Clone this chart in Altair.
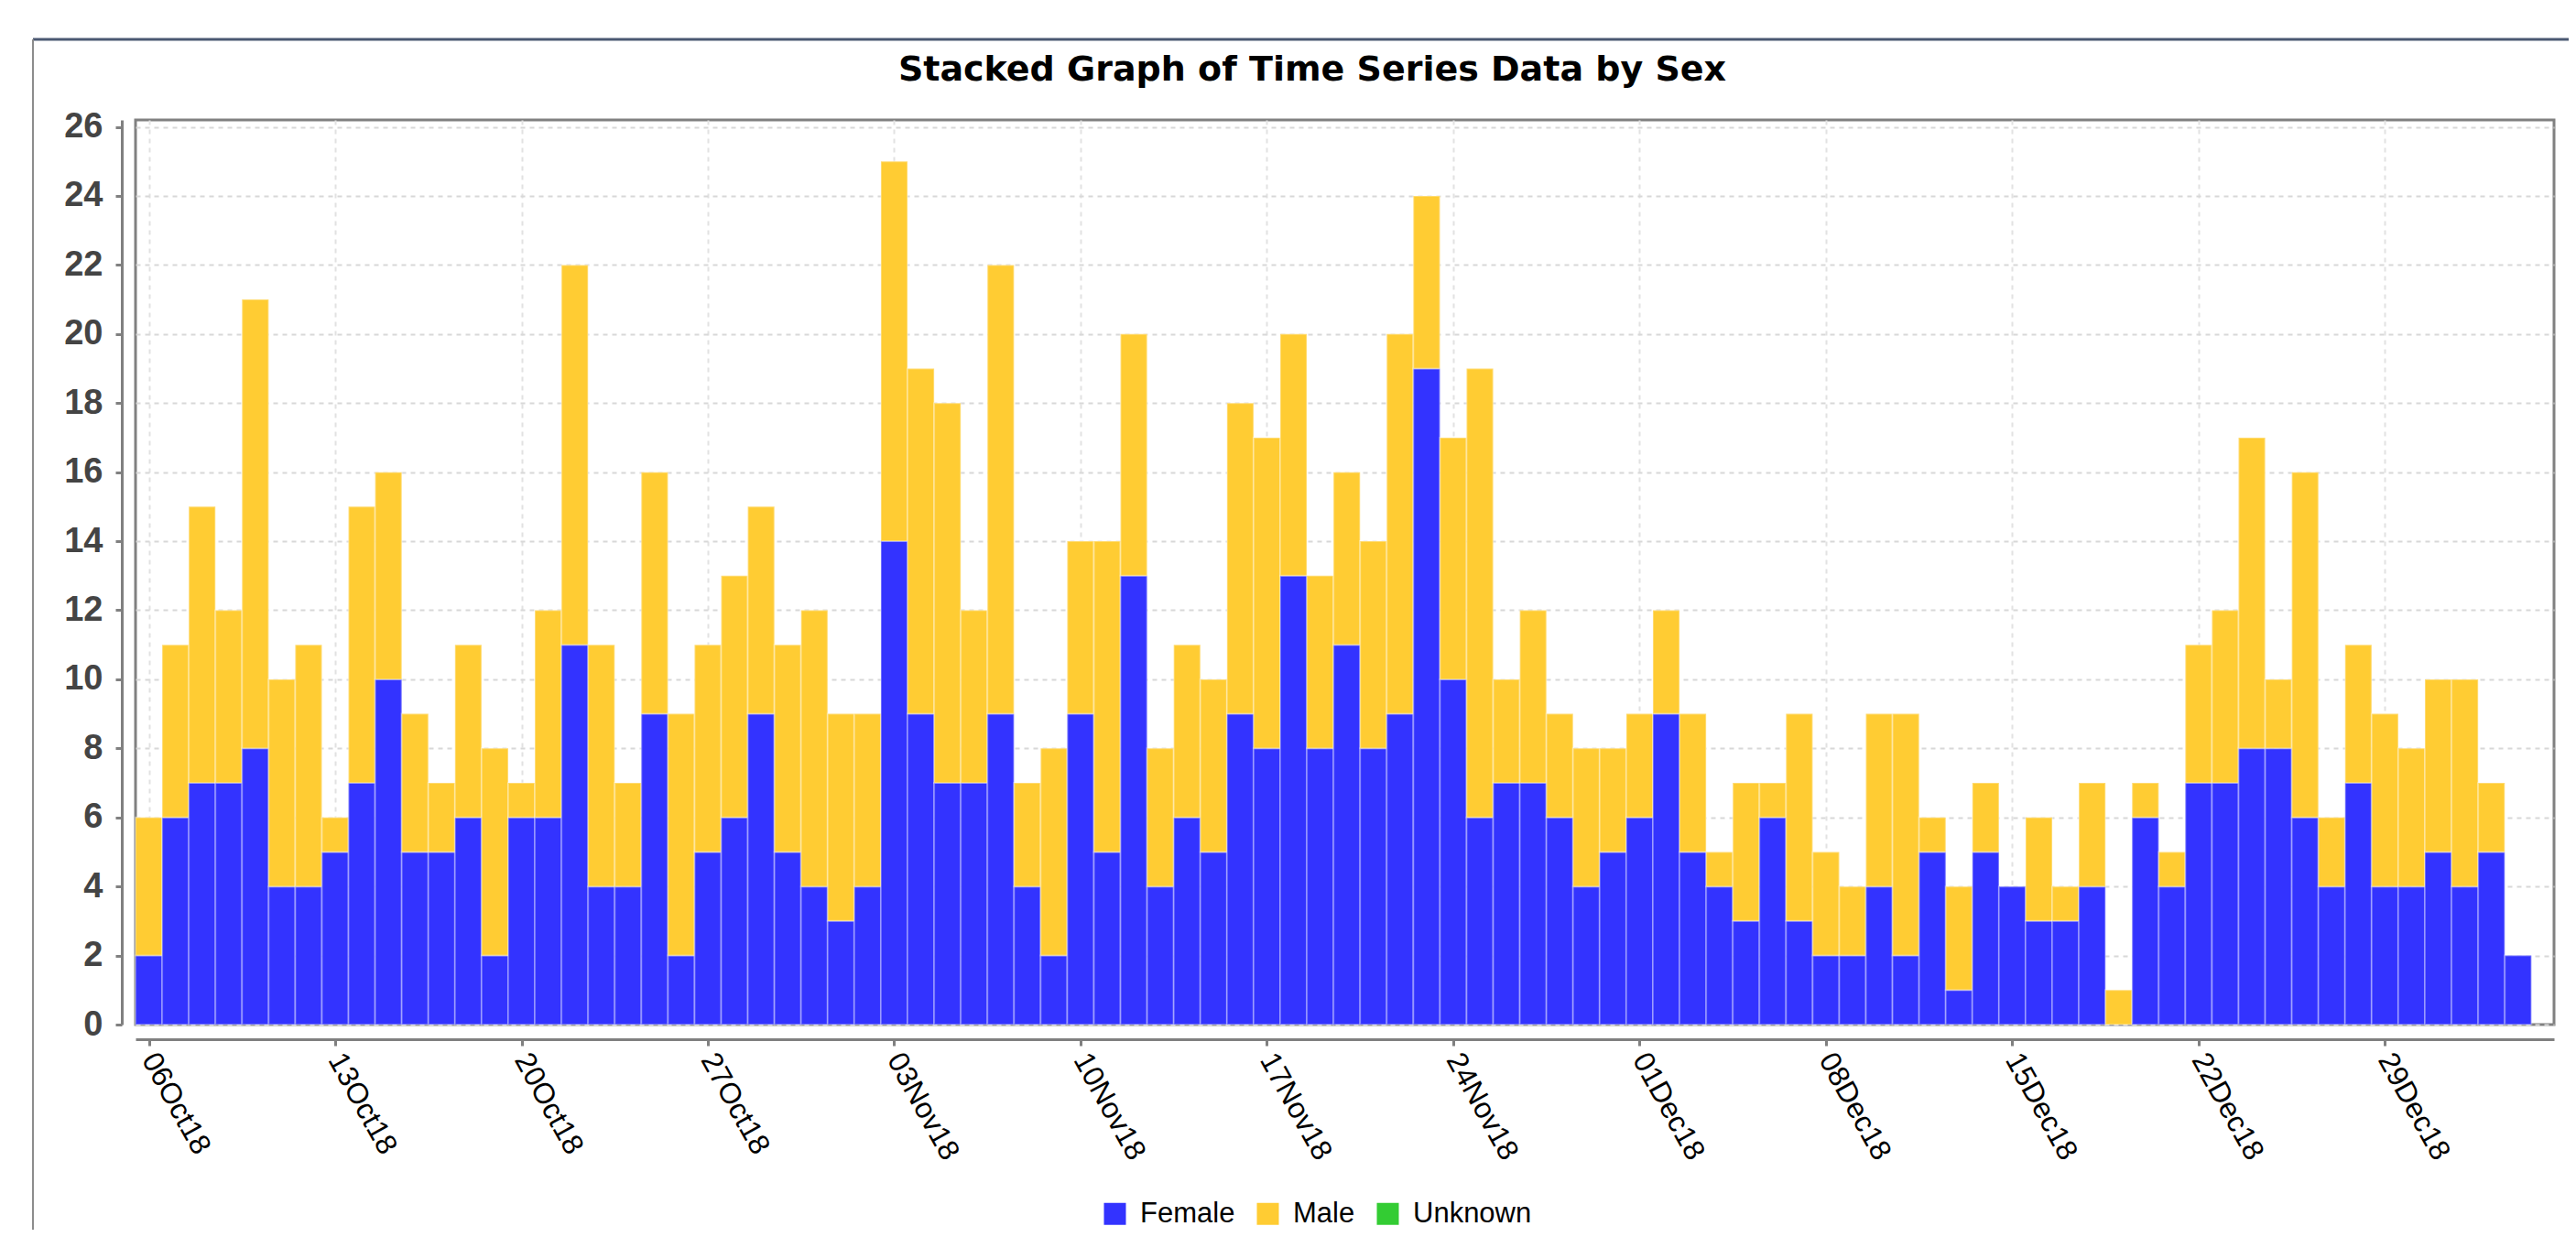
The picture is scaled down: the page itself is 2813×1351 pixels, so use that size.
import altair as alt
import pandas as pd

# ---- data ----
start_date = "2018-10-06"
n_days = 90
female = [2,6,7,7,8,4,4,5,7,10, 5,5,6,2,6,6,11,4,4,9, 2,5,6,9,5,4,3,4,14,9,
          7,7,9,4,2,9,5,13,4,6, 5,9,8,13,8,11,8,9,19,10, 6,7,7,6,4,5,6,9,5,4,
          3,6,3,2,2,4,2,5,1,5, 4,3,3,4,0,6,4,7,7,8, 8,6,4,7,4,4,5,4,5,2]
male = [4,5,8,5,13,6,7,1,8,6, 4,2,5,6,1,6,11,7,3,7, 7,6,7,6,6,8,6,5,11,10,
        11,5,13,3,6,5,9,7,4,5, 5,9,9,7,5,5,6,11,5,7, 13,3,5,3,4,3,3,3,4,1,
        4,1,6,3,2,5,7,1,3,2, 0,3,1,3,1,1,1,4,5,9, 2,10,2,4,5,4,5,6,2,0]
sexes = ["Female", "Male", "Unknown"]
sex_colors = ["#3333FF", "#FFCC33", "#33CC33"]
week_ticks = ["2018-10-06", "2018-10-13", "2018-10-20", "2018-10-27", "2018-11-03",
              "2018-11-10", "2018-11-17", "2018-11-24", "2018-12-01", "2018-12-08",
              "2018-12-15", "2018-12-22", "2018-12-29"]
y_ticks = list(range(0, 27, 2))
title_text = "Stacked Graph of Time Series Data by Sex"

dates = pd.date_range(start_date, periods=n_days, freq="D").strftime("%Y-%m-%d").tolist()
rows = []
for d, f, m in zip(dates, female, male):
    rows.append({"date": d, "sex": "Female", "count": f, "ord": 0})
    rows.append({"date": d, "sex": "Male", "count": m, "ord": 1})
df = pd.DataFrame(rows)


def dt(s, hours=0, minutes=0):
    y, mo, d = (int(v) for v in s.split("-"))
    return alt.DateTime(year=y, month=mo, date=d, hours=hours, minutes=minutes, utc=True)


x_domain = [dt("2018-10-05", 12), dt("2019-01-04", 8, 24)]

bars = (
    alt.Chart(df)
    .transform_stack(stack="count", as_=["y0", "y1"], groupby=["date"],
                     sort=[alt.SortField("ord", order="ascending")])
    .transform_filter("datum.count > 0")
    .transform_calculate(
        start="toDate(datum.date) - 43200000",
        end="toDate(datum.date) + 43200000",
    )
    .mark_bar(stroke="white", strokeOpacity=0.3, strokeWidth=2)
    .encode(
        x=alt.X(
            "start:T",
            scale=alt.Scale(type="utc", domain=x_domain),
            axis=alt.Axis(
                values=[dt(s) for s in week_ticks],
                format="%d%b%y",
                title=None,
                labelAngle=61,
                labelFont="Liberation Sans",
                labelFontSize=32,
                labelColor="black",
                labelPadding=10,
                labelOverlap=False,
                labelFlush=False,
                tickSize=7,
                tickWidth=3,
                tickColor="#808080",
                domainColor="#808080",
                domainWidth=3,
                offset=16,
                grid=True,
                gridColor="#e2e2e2",
                gridDash=[5, 5],
                gridWidth=2,
            ),
        ),
        x2="end:T",
        y=alt.Y(
            "y0:Q",
            scale=alt.Scale(domain=[0, 26.2], nice=False),
            axis=alt.Axis(
                values=y_ticks,
                title=None,
                labelFont="Liberation Sans",
                labelFontSize=38,
                labelFontWeight="bold",
                labelColor="#444444",
                labelPadding=14,
                tickSize=7,
                tickWidth=3,
                tickColor="#808080",
                domainColor="#808080",
                domainWidth=3,
                offset=15,
                grid=True,
                gridColor="#d8d8d8",
                gridDash=[5, 5],
                gridWidth=2,
            ),
        ),
        y2="y1:Q",
        color=alt.Color(
            "sex:N",
            scale=alt.Scale(domain=sexes, range=sex_colors),
            legend=alt.Legend(
                title=None,
                orient="none",
                direction="horizontal",
                legendX=1054,
                legendY=1179,
                symbolType="square",
                symbolSize=576,
                symbolStrokeWidth=0,
                labelFont="Liberation Sans",
                labelFontSize=31,
                labelColor="black",
                labelOffset=12,
                columnPadding=20,
            ),
        ),
    )
)

one = pd.DataFrame({"k": [0]})
border_top = alt.Chart(one).mark_rule(color="#4a5872", strokeWidth=3).encode(
    x=alt.value(-112), x2=alt.value(2665), y=alt.value(-88)
)
border_left = alt.Chart(one).mark_rule(color="#8c8c8c", strokeWidth=2).encode(
    x=alt.value(-112), y=alt.value(-88), y2=alt.value(1230)
)
title = alt.Chart(one).mark_text(
    text=title_text, font="DejaVu Sans", fontWeight="bold", fontSize=38,
    align="center", baseline="alphabetic", color="black"
).encode(x=alt.value(1285), y=alt.value(-43))

chart = (
    alt.layer(border_top, border_left, bars, title)
    .properties(
        width=2641,
        height=988,
        padding={"left": 140, "top": 123, "right": 16, "bottom": 224},
        autosize=alt.AutoSizeParams(type="none"),
    )
    .configure_view(stroke="#808080", strokeWidth=3)
)

chart.save("out.html", embed_options={"renderer": "svg", "actions": False})
